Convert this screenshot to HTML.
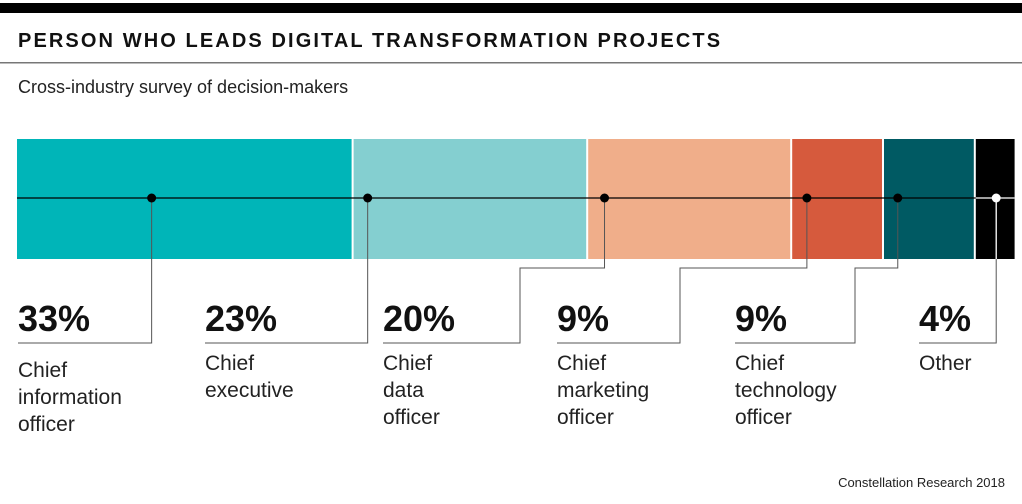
<!DOCTYPE html>
<html><head><meta charset="utf-8"><style>
body{margin:0;background:#fff;width:1022px;height:499px;overflow:hidden;font-family:"Liberation Sans",sans-serif}
</style></head><body>
<svg id="c" width="1022" height="499" xmlns="http://www.w3.org/2000/svg">
<rect x="0" y="3" width="1022" height="10" fill="#000"/>
<text x="18" y="47" font-size="20" font-weight="bold" letter-spacing="2.1" fill="#111">PERSON WHO LEADS DIGITAL TRANSFORMATION PROJECTS</text>
<rect x="0" y="62" width="1022" height="1.5" fill="#777"/>
<text x="18" y="93" font-size="18" fill="#222">Cross-industry survey of decision-makers</text>
<text x="1005" y="487" font-size="13" fill="#222" text-anchor="end">Constellation Research 2018</text>
<g id="bars"></g><g id="links"></g><g id="labels"></g>
</svg>
<script>
const categories=["Chief information officer","Chief executive","Chief data officer","Chief marketing officer","Chief technology officer","Other"];
const values=[33,23,20,9,9,4];
const colors=["#00b5b8","#84cfd0","#f0ae8a","#d65a3d","#005a63","#000000"];
const labelLines=[["Chief","information","officer"],["Chief","executive"],["Chief","data","officer"],["Chief","marketing","officer"],["Chief","technology","officer"],["Other"]];
const NS="http://www.w3.org/2000/svg";
const x0=17,pxPer=10.2,barY=139,barH=120,midY=198;
const labelX=[18,205,383,557,735,919];
const dotFrac=[0.4,0.06,0.08,0.16,0.15,0.5];
const jogX=[null,null,520,680,855,null];
const x=v=>x0+v*pxPer;
function mk(t,a,p){const e=document.createElementNS(NS,t);for(const k in a)e.setAttribute(k,a[k]);p.appendChild(e);return e;}
const gb=document.getElementById('bars'),gl=document.getElementById('links'),gt=document.getElementById('labels');
let cum=0;
values.forEach((v,i)=>{
 const r=mk('rect',{x:x(cum),y:barY,width:v*pxPer-2,height:barH,fill:colors[i]},gb);
 
 
 cum+=v;
});
const tot=cum;
const lastStart=x(tot-values[values.length-1]);
const ln=mk('line',{x1:x0,x2:lastStart,y1:midY,y2:midY,stroke:'#000','stroke-width':1.3},gb);


const ln2=mk('line',{x1:lastStart,x2:x(tot)-2,y1:midY,y2:midY,stroke:'#fff','stroke-width':1.3},gb);


cum=0;
values.forEach((v,i)=>{
 const dx=x(cum+v*dotFrac[i]);cum+=v;
 const lx=labelX[i];
 let d;
 if(jogX[i]!==null)d=`M${dx} ${midY}V268H${jogX[i]}V343H${lx}`;
 else d=`M${dx} ${midY}V343H${lx}`;
 const p=mk('path',{d:d,fill:'none',stroke:'#555','stroke-width':1},gl);
 
 
 if(i==5){
  const w=mk('line',{x1:dx,x2:dx,y1:midY,y2:barY+barH,stroke:'#fff','stroke-width':1.3},gl);
  
  
 }
 const c=mk('circle',{cx:dx,cy:midY,r:4.5,fill:i==5?'#fff':'#000'},gl);
 
 
 const n=mk('text',{x:lx,y:331,'font-size':36,'font-weight':'bold',fill:'#111'},gt);
 n.textContent=v+'%';
 
 
 const t=mk('text',{x:lx,y:i==0?377:370,'font-size':21,fill:'#222'},gt);
 
 
 labelLines[i].forEach((s,k)=>{const ts=mk('tspan',{x:lx,dy:k?27:0},t);ts.textContent=s;});
});
</script>
</body></html>
